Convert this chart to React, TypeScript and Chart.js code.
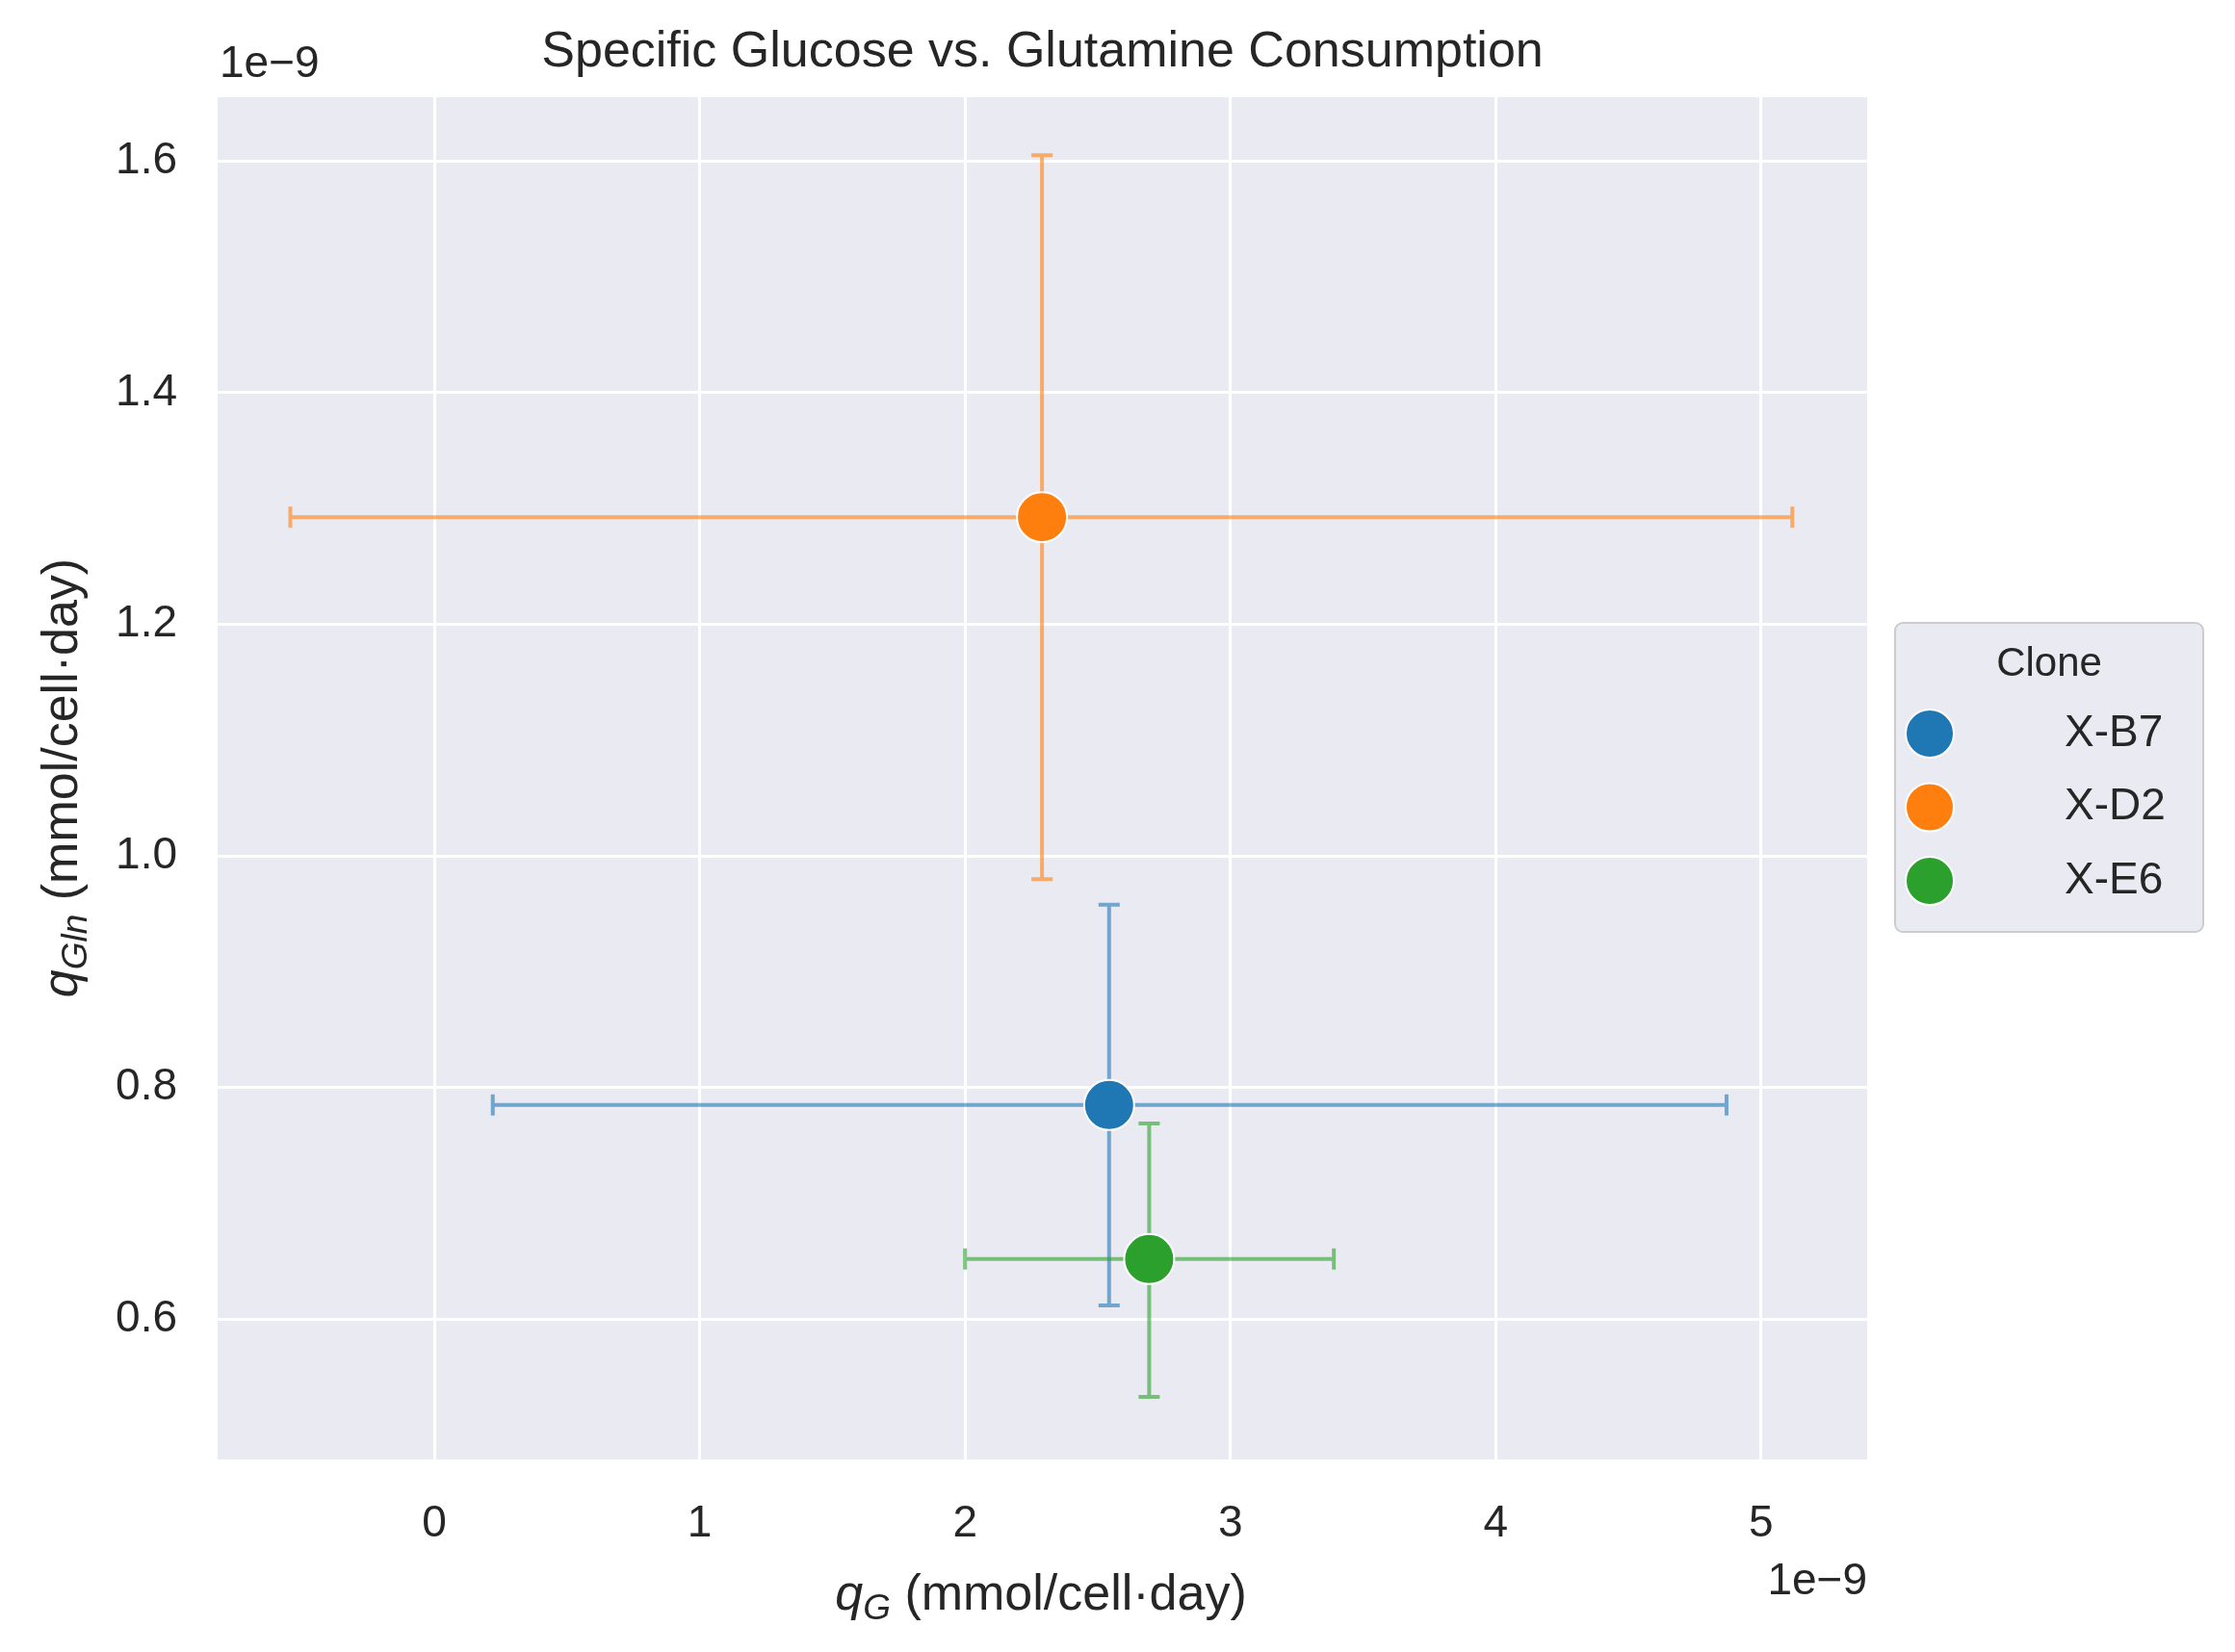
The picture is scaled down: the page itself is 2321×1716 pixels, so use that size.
import { useEffect, useRef } from 'react';
import Chart from 'chart.js/auto';

const clones = ['X-B7', 'X-D2', 'X-E6'];
const colors = ['#1f77b4', '#ff7f0e', '#2ca02c'];
// values in units of 1e-9 mmol/cell·day
const qG = [2.543, 2.29, 2.694];
const qGLow = [0.22, -0.543, 2.0];
const qGHigh = [4.87, 5.118, 3.39];
const qGln = [0.785, 1.2925, 0.652];
const qGlnLow = [0.612, 0.98, 0.533];
const qGlnHigh = [0.958, 1.605, 0.769];
const xTicks = [0, 1, 2, 3, 4, 5];
const yTicks = [0.6, 0.8, 1.0, 1.2, 1.4, 1.6];

const FONT = '"Liberation Sans", Arial, sans-serif';
const TEXT = '#262626';

function alpha(hex: string, a: number) {
  const n = parseInt(hex.slice(1), 16);
  return `rgba(${n >> 16},${(n >> 8) & 255},${n & 255},${a})`;
}

const bgPlugin = {
  id: 'bg',
  beforeDraw(chart: any) {
    const { ctx, chartArea: a } = chart;
    ctx.save();
    ctx.fillStyle = '#EAEAF2';
    ctx.fillRect(a.left, a.top, a.right - a.left, a.bottom - a.top);
    ctx.restore();
  },
};

const errPlugin = {
  id: 'err',
  beforeDatasetsDraw(chart: any) {
    const { ctx, scales } = chart;
    const x = scales.x, y = scales.y;
    ctx.save();
    ctx.lineWidth = 4;
    clones.forEach((_, i) => {
      ctx.strokeStyle = alpha(colors[i], 0.6);
      const cx = x.getPixelForValue(qG[i]);
      const cy = y.getPixelForValue(qGln[i]);
      const x0 = x.getPixelForValue(qGLow[i]);
      const x1 = x.getPixelForValue(qGHigh[i]);
      const y0 = y.getPixelForValue(qGlnLow[i]);
      const y1 = y.getPixelForValue(qGlnHigh[i]);
      const c = 11;
      ctx.beginPath();
      ctx.moveTo(x0, cy); ctx.lineTo(x1, cy);
      ctx.moveTo(x0, cy - c); ctx.lineTo(x0, cy + c);
      ctx.moveTo(x1, cy - c); ctx.lineTo(x1, cy + c);
      ctx.moveTo(cx, y0); ctx.lineTo(cx, y1);
      ctx.moveTo(cx - c, y0); ctx.lineTo(cx + c, y0);
      ctx.moveTo(cx - c, y1); ctx.lineTo(cx + c, y1);
      ctx.stroke();
    });
    ctx.restore();
  },
};

function drawLabel(ctx: any, x: number, y: number, sub: string) {
  const big = 52, small = 37;
  const parts: [string, string][] = [
    [`italic ${big}px ${FONT}`, 'q'],
    [`italic ${small}px ${FONT}`, sub],
    [`${big}px ${FONT}`, ' (mmol/cell·day)'],
  ];
  let w = 0;
  parts.forEach(([f, t]) => { ctx.font = f; w += ctx.measureText(t).width; });
  let px = x - w / 2;
  ctx.textBaseline = 'alphabetic';
  ctx.textAlign = 'left';
  parts.forEach(([f, t], i) => {
    ctx.font = f;
    ctx.fillText(t, px, y + (i === 1 ? 10 : 0));
    px += ctx.measureText(t).width;
  });
}

const textPlugin = {
  id: 'texts',
  afterDraw(chart: any) {
    const { ctx, chartArea: a } = chart;
    ctx.save();
    ctx.fillStyle = TEXT;
    ctx.font = `52px ${FONT}`;
    ctx.textAlign = 'center';
    ctx.textBaseline = 'middle';
    ctx.fillText('Specific Glucose vs. Glutamine Consumption', (a.left + a.right) / 2, 55);
    ctx.font = `46px ${FONT}`;
    ctx.textAlign = 'left';
    ctx.fillText('1e\u22129', a.left + 2, 67);
    ctx.textAlign = 'right';
    ctx.fillText('1e\u22129', a.right, 1643);
    drawLabel(ctx, 1081, 1672, 'G');
    ctx.save();
    ctx.translate(80, 808);
    ctx.rotate(-Math.PI / 2);
    drawLabel(ctx, 0, 0, 'Gln');
    ctx.restore();
    // legend
    const lx = 1968, ly = 647, lw = 320, lh = 321;
    ctx.fillStyle = '#EAEAF2';
    ctx.strokeStyle = '#cccccc';
    ctx.lineWidth = 2;
    ctx.beginPath();
    ctx.roundRect(lx, ly, lw, lh, 8);
    ctx.fill();
    ctx.stroke();
    ctx.fillStyle = TEXT;
    ctx.textAlign = 'center';
    ctx.textBaseline = 'middle';
    ctx.font = `42px ${FONT}`;
    ctx.fillText('Clone', 2128, 690);
    clones.forEach((c, i) => {
      const yy = 762 + i * 76.5;
      ctx.beginPath();
      ctx.arc(2004, yy, 25, 0, Math.PI * 2);
      ctx.fillStyle = colors[i];
      ctx.fill();
      ctx.strokeStyle = '#ffffff';
      ctx.lineWidth = 2;
      ctx.stroke();
      ctx.fillStyle = TEXT;
      ctx.textAlign = 'left';
      ctx.textBaseline = 'middle';
      ctx.font = `46px ${FONT}`;
      ctx.fillText(c, 2144, yy);
    });
    ctx.restore();
  },
};

export default function App() {
  const canvasRef = useRef<HTMLCanvasElement | null>(null);
  const chartRef = useRef<Chart | null>(null);

  useEffect(() => {
    document.body.style.margin = '0';
    if (!canvasRef.current) return undefined;
    chartRef.current?.destroy();
    const tickFont = { family: FONT, size: 46 };
    chartRef.current = new Chart(canvasRef.current, {
      type: 'scatter',
      data: {
        datasets: clones.map((c, i) => ({
          label: c,
          data: [{ x: qG[i], y: qGln[i] }],
          backgroundColor: colors[i],
          borderColor: '#ffffff',
          borderWidth: 2,
          pointRadius: 26,
          pointHoverRadius: 26,
        })),
      },
      options: {
        animation: false,
        responsive: false,
        devicePixelRatio: 1,
        layout: { padding: { top: 101, right: 382, left: 0, bottom: 0 } },
        plugins: { legend: { display: false }, title: { display: false }, tooltip: { enabled: false } },
        scales: {
          x: {
            type: 'linear',
            min: -0.817,
            max: 5.4,
            border: { display: false },
            grid: { color: '#ffffff', lineWidth: 3, drawTicks: false },
            ticks: { font: tickFont, color: TEXT, padding: 40, maxRotation: 0 },
            afterBuildTicks: (s: any) => { s.ticks = xTicks.map((v) => ({ value: v })); },
            afterFit: (s: any) => { s.height = 200; },
          },
          y: {
            type: 'linear',
            min: 0.479,
            max: 1.655,
            border: { display: false },
            grid: { color: '#ffffff', lineWidth: 3, drawTicks: false },
            ticks: { font: tickFont, color: TEXT, padding: 42, callback: (v: any) => Number(v).toFixed(1) },
            afterBuildTicks: (s: any) => { s.ticks = yTicks.map((v) => ({ value: v })); },
            afterFit: (s: any) => { s.width = 226; },
          },
        },
      },
      plugins: [bgPlugin, errPlugin, textPlugin],
    });
    return () => {
      chartRef.current?.destroy();
      chartRef.current = null;
    };
  }, []);

  return <canvas ref={canvasRef} width={2321} height={1716} style={{ display: 'block' }} />;
}
